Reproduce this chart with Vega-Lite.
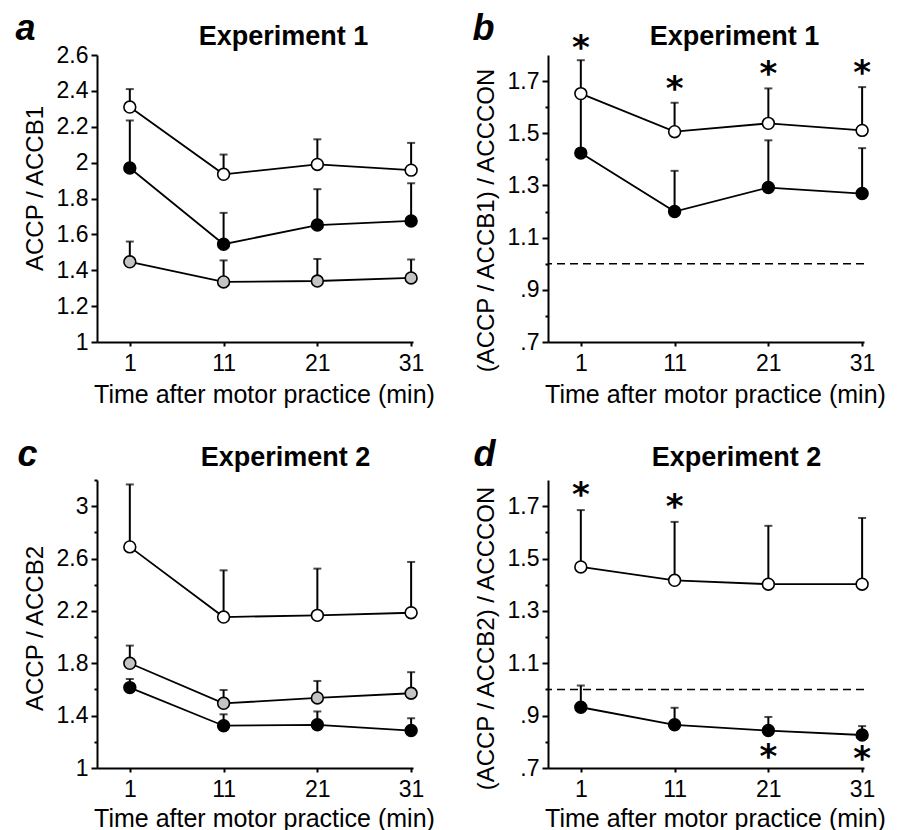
{
  "$schema": "https://vega.github.io/schema/vega-lite/v6.json",
  "background": "white",
  "padding": {"left": 15, "top": 10, "right": 5, "bottom": 5},
  "config": {
    "view": {"stroke": null},
    "font": "Liberation Sans",
    "axis": {
      "grid": false, "domainColor": "black", "domainWidth": 2, "tickColor": "black", "tickWidth": 2,
      "labelColor": "black", "titleColor": "black", "labelFont": "Liberation Sans", "titleFont": "Liberation Sans",
      "labelFontSize": 23, "titleFontSize": 24, "titleFontWeight": "normal", "labelFlush": false, "labelOverlap": false
    }
  },
  "datasets": {
    "pts": [
      {"panel": "a", "series": "open", "time": 1, "mean": 2.31, "upper": 2.41},
      {"panel": "a", "series": "open", "time": 11, "mean": 1.935, "upper": 2.045},
      {"panel": "a", "series": "open", "time": 21, "mean": 1.99, "upper": 2.13},
      {"panel": "a", "series": "open", "time": 31, "mean": 1.958, "upper": 2.11},
      {"panel": "a", "series": "filled", "time": 1, "mean": 1.97, "upper": 2.235},
      {"panel": "a", "series": "filled", "time": 11, "mean": 1.545, "upper": 1.72},
      {"panel": "a", "series": "filled", "time": 21, "mean": 1.652, "upper": 1.852},
      {"panel": "a", "series": "filled", "time": 31, "mean": 1.675, "upper": 1.885},
      {"panel": "a", "series": "gray", "time": 1, "mean": 1.447, "upper": 1.56},
      {"panel": "a", "series": "gray", "time": 11, "mean": 1.335, "upper": 1.455},
      {"panel": "a", "series": "gray", "time": 21, "mean": 1.34, "upper": 1.463},
      {"panel": "a", "series": "gray", "time": 31, "mean": 1.357, "upper": 1.46},
      {"panel": "b", "series": "open", "time": 1, "mean": 1.652, "upper": 1.78},
      {"panel": "b", "series": "open", "time": 11, "mean": 1.506, "upper": 1.617},
      {"panel": "b", "series": "open", "time": 21, "mean": 1.538, "upper": 1.672},
      {"panel": "b", "series": "open", "time": 31, "mean": 1.511, "upper": 1.677},
      {"panel": "b", "series": "filled", "time": 1, "mean": 1.424, "upper": 1.64},
      {"panel": "b", "series": "filled", "time": 11, "mean": 1.2, "upper": 1.356},
      {"panel": "b", "series": "filled", "time": 21, "mean": 1.292, "upper": 1.473},
      {"panel": "b", "series": "filled", "time": 31, "mean": 1.269, "upper": 1.443},
      {"panel": "c", "series": "open", "time": 1, "mean": 2.689, "upper": 3.166},
      {"panel": "c", "series": "open", "time": 11, "mean": 2.153, "upper": 2.51},
      {"panel": "c", "series": "open", "time": 21, "mean": 2.166, "upper": 2.523},
      {"panel": "c", "series": "open", "time": 31, "mean": 2.186, "upper": 2.574},
      {"panel": "c", "series": "gray", "time": 1, "mean": 1.8, "upper": 1.935},
      {"panel": "c", "series": "gray", "time": 11, "mean": 1.494, "upper": 1.596},
      {"panel": "c", "series": "gray", "time": 21, "mean": 1.535, "upper": 1.665},
      {"panel": "c", "series": "gray", "time": 31, "mean": 1.571, "upper": 1.732},
      {"panel": "c", "series": "filled", "time": 1, "mean": 1.614, "upper": 1.68},
      {"panel": "c", "series": "filled", "time": 11, "mean": 1.323, "upper": 1.41},
      {"panel": "c", "series": "filled", "time": 21, "mean": 1.33, "upper": 1.432},
      {"panel": "c", "series": "filled", "time": 31, "mean": 1.286, "upper": 1.38},
      {"panel": "d", "series": "open", "time": 1, "mean": 1.468, "upper": 1.685},
      {"panel": "d", "series": "open", "time": 11, "mean": 1.417, "upper": 1.64},
      {"panel": "d", "series": "open", "time": 21, "mean": 1.402, "upper": 1.625},
      {"panel": "d", "series": "open", "time": 31, "mean": 1.402, "upper": 1.655},
      {"panel": "d", "series": "filled", "time": 1, "mean": 0.932, "upper": 1.015},
      {"panel": "d", "series": "filled", "time": 11, "mean": 0.865, "upper": 0.93},
      {"panel": "d", "series": "filled", "time": 21, "mean": 0.843, "upper": 0.895},
      {"panel": "d", "series": "filled", "time": 31, "mean": 0.826, "upper": 0.86}
    ],
    "stars": [
      {"panel": "b", "time": 1, "y": 1.837, "label": "*"},
      {"panel": "b", "time": 11, "y": 1.68, "label": "*"},
      {"panel": "b", "time": 21, "y": 1.738, "label": "*"},
      {"panel": "b", "time": 31, "y": 1.743, "label": "*"},
      {"panel": "d", "time": 1, "y": 1.755, "label": "*"},
      {"panel": "d", "time": 11, "y": 1.71, "label": "*"},
      {"panel": "d", "time": 21, "y": 0.753, "label": "*"},
      {"panel": "d", "time": 31, "y": 0.747, "label": "*"}
    ],
    "refs": [
      {"panel": "b", "ref": 1},
      {"panel": "d", "ref": 1}
    ]
  },
  "columns": 2,
  "bounds": "flush",
  "spacing": {"row": 138, "column": 135},
  "concat": [
    {
      "width": 316, "height": 287,
      "data": {"name": "pts"},
      "transform": [{"filter": "datum.panel == 'a'"}],
      "resolve": {"axis": {"x": "independent", "y": "independent"}},
      "layer": [
        {"mark": {"type": "rule", "color": "black", "strokeWidth": 2},
         "encoding": {
           "x": {"field": "time", "type": "quantitative", "scale": {"domain": [-2.5, 31.2], "nice": false, "zero": false},
                 "axis": {"orient": "bottom", "values": [1, 11, 21, 31], "title": "Time after motor practice (min)", "titleFontSize": 25, "titleX": 167, "titleY": 60, "titleBaseline": "alphabetic", "tickSize": 4, "labelPadding": 6}},
           "y": {"field": "mean", "type": "quantitative", "scale": {"domain": [1, 2.6], "nice": false, "zero": false},
                 "axis": {"orient": "left", "values": [1, 1.2, 1.4, 1.6, 1.8, 2, 2.2, 2.4, 2.6], "format": "~g", "title": "ACCP / ACCB1", "tickSize": 6, "labelPadding": 3, "titleX": -55, "titleY": 133, "titleBaseline": "alphabetic", "titleAlign": "center", "titleAngle": -90}},
           "y2": {"field": "upper"}
         }},
        {"mark": {"type": "tick", "orient": "horizontal", "color": "black", "size": 8, "thickness": 2},
         "encoding": {
           "x": {"field": "time", "type": "quantitative", "scale": {"domain": [-2.5, 31.2], "nice": false, "zero": false}, "axis": null},
           "y": {"field": "upper", "type": "quantitative", "scale": {"domain": [1, 2.6], "nice": false, "zero": false}, "axis": null}
         }},
        {"mark": {"type": "line", "color": "black", "strokeWidth": 1.8},
         "encoding": {
           "x": {"field": "time", "type": "quantitative", "scale": {"domain": [-2.5, 31.2], "nice": false, "zero": false},
                 "axis": {"orient": "top", "labels": false, "ticks": false, "domain": false, "title": "a", "titleFontSize": 36, "titleFontWeight": "bold", "titleFontStyle": "italic", "titleX": -82, "titleY": -16, "titleAlign": "left", "titleBaseline": "alphabetic"}},
           "y": {"field": "mean", "type": "quantitative", "scale": {"domain": [1, 2.6], "nice": false, "zero": false}, "axis": null},
           "detail": {"field": "series"}
         }},
        {"mark": {"type": "point", "shape": "circle", "filled": true, "size": 140, "stroke": "black", "strokeWidth": 1.6, "opacity": 1},
         "encoding": {
           "x": {"field": "time", "type": "quantitative", "scale": {"domain": [-2.5, 31.2], "nice": false, "zero": false},
                 "axis": {"orient": "top", "labels": false, "ticks": false, "domain": false, "title": "Experiment 1", "titleFontSize": 27, "titleFontWeight": "bold", "titleX": 186, "titleY": -11, "titleAlign": "center", "titleBaseline": "alphabetic"}},
           "y": {"field": "mean", "type": "quantitative", "scale": {"domain": [1, 2.6], "nice": false, "zero": false}, "axis": null},
           "fill": {"field": "series", "type": "nominal", "scale": {"domain": ["open", "filled", "gray"], "range": ["white", "black", "#c4c4c4"]}, "legend": null}
         }}
      ]
    },
    {
      "width": 316, "height": 287,
      "data": {"name": "pts"},
      "transform": [{"filter": "datum.panel == 'b'"}],
      "resolve": {"axis": {"x": "independent", "y": "independent"}},
      "layer": [
        {"data": {"name": "refs"},
         "transform": [{"filter": "datum.panel == 'b'"}],
         "mark": {"type": "rule", "color": "black", "strokeWidth": 1.5, "strokeDash": [8, 5]},
         "encoding": {
           "y": {"field": "ref", "type": "quantitative", "scale": {"domain": [0.7, 1.8], "nice": false, "zero": false}, "axis": null}
         }},
        {"mark": {"type": "rule", "color": "black", "strokeWidth": 2},
         "encoding": {
           "x": {"field": "time", "type": "quantitative", "scale": {"domain": [-2.5, 31.2], "nice": false, "zero": false},
                 "axis": {"orient": "bottom", "values": [1, 11, 21, 31], "title": "Time after motor practice (min)", "titleFontSize": 25, "titleX": 167, "titleY": 60, "titleBaseline": "alphabetic", "tickSize": 4, "labelPadding": 6}},
           "y": {"field": "mean", "type": "quantitative", "scale": {"domain": [0.7, 1.8], "nice": false, "zero": false},
                 "axis": {"orient": "left", "values": [0.7, 0.8, 0.9, 1, 1.1, 1.2, 1.3, 1.4, 1.5, 1.6, 1.7], "labelExpr": "round(datum.value*10)%2==1 ? replace(format(datum.value,'.1f'),'0.','.') : ''", "title": "(ACCP / ACCB1) / ACCCON", "tickSize": {"condition": {"test": "round(datum.value*10)%2==1", "value": 6}, "value": 3}, "labelPadding": 3, "titleX": -55, "titleY": 165, "titleBaseline": "alphabetic", "titleAlign": "center", "titleAngle": -90}},
           "y2": {"field": "upper"}
         }},
        {"mark": {"type": "tick", "orient": "horizontal", "color": "black", "size": 8, "thickness": 2},
         "encoding": {
           "x": {"field": "time", "type": "quantitative", "scale": {"domain": [-2.5, 31.2], "nice": false, "zero": false}, "axis": null},
           "y": {"field": "upper", "type": "quantitative", "scale": {"domain": [0.7, 1.8], "nice": false, "zero": false}, "axis": null}
         }},
        {"mark": {"type": "line", "color": "black", "strokeWidth": 1.8},
         "encoding": {
           "x": {"field": "time", "type": "quantitative", "scale": {"domain": [-2.5, 31.2], "nice": false, "zero": false},
                 "axis": {"orient": "top", "labels": false, "ticks": false, "domain": false, "title": "b", "titleFontSize": 36, "titleFontWeight": "bold", "titleFontStyle": "italic", "titleX": -76, "titleY": -16, "titleAlign": "left", "titleBaseline": "alphabetic"}},
           "y": {"field": "mean", "type": "quantitative", "scale": {"domain": [0.7, 1.8], "nice": false, "zero": false}, "axis": null},
           "detail": {"field": "series"}
         }},
        {"mark": {"type": "point", "shape": "circle", "filled": true, "size": 140, "stroke": "black", "strokeWidth": 1.6, "opacity": 1},
         "encoding": {
           "x": {"field": "time", "type": "quantitative", "scale": {"domain": [-2.5, 31.2], "nice": false, "zero": false},
                 "axis": {"orient": "top", "labels": false, "ticks": false, "domain": false, "title": "Experiment 1", "titleFontSize": 27, "titleFontWeight": "bold", "titleX": 186, "titleY": -11, "titleAlign": "center", "titleBaseline": "alphabetic"}},
           "y": {"field": "mean", "type": "quantitative", "scale": {"domain": [0.7, 1.8], "nice": false, "zero": false}, "axis": null},
           "fill": {"field": "series", "type": "nominal", "scale": {"domain": ["open", "filled", "gray"], "range": ["white", "black", "#c4c4c4"]}, "legend": null}
         }},
        {"data": {"name": "stars"},
         "transform": [{"filter": "datum.panel == 'b'"}],
         "mark": {"type": "text", "font": "DejaVu Sans", "fontSize": 34, "fontWeight": "bold", "baseline": "alphabetic", "dy": 14, "color": "black"},
         "encoding": {
           "x": {"field": "time", "type": "quantitative", "scale": {"domain": [-2.5, 31.2], "nice": false, "zero": false}, "axis": null},
           "y": {"field": "y", "type": "quantitative", "scale": {"domain": [0.7, 1.8], "nice": false, "zero": false}, "axis": null},
           "text": {"field": "label"}
         }}
      ]
    },
    {
      "width": 316, "height": 288,
      "data": {"name": "pts"},
      "transform": [{"filter": "datum.panel == 'c'"}],
      "resolve": {"axis": {"x": "independent", "y": "independent"}},
      "layer": [
        {"mark": {"type": "rule", "color": "black", "strokeWidth": 2},
         "encoding": {
           "x": {"field": "time", "type": "quantitative", "scale": {"domain": [-2.5, 31.2], "nice": false, "zero": false},
                 "axis": {"orient": "bottom", "values": [1, 11, 21, 31], "title": "Time after motor practice (min)", "titleFontSize": 25, "titleX": 167, "titleY": 58, "titleBaseline": "alphabetic", "tickSize": 4, "labelPadding": 6}},
           "y": {"field": "mean", "type": "quantitative", "scale": {"domain": [1, 3.2], "nice": false, "zero": false},
                 "axis": {"orient": "left", "values": [1, 1.2, 1.4, 1.6, 1.8, 2, 2.2, 2.4, 2.6, 2.8, 3, 3.2], "labelExpr": "(round(datum.value*10)-10)%4==0 ? format(datum.value,'~g') : ''", "title": "ACCP / ACCB2", "tickSize": {"condition": {"test": "(round(datum.value*10)-10)%4==0", "value": 6}, "value": 3}, "labelPadding": 3, "titleX": -55, "titleY": 148, "titleBaseline": "alphabetic", "titleAlign": "center", "titleAngle": -90}},
           "y2": {"field": "upper"}
         }},
        {"mark": {"type": "tick", "orient": "horizontal", "color": "black", "size": 8, "thickness": 2},
         "encoding": {
           "x": {"field": "time", "type": "quantitative", "scale": {"domain": [-2.5, 31.2], "nice": false, "zero": false}, "axis": null},
           "y": {"field": "upper", "type": "quantitative", "scale": {"domain": [1, 3.2], "nice": false, "zero": false}, "axis": null}
         }},
        {"mark": {"type": "line", "color": "black", "strokeWidth": 1.8},
         "encoding": {
           "x": {"field": "time", "type": "quantitative", "scale": {"domain": [-2.5, 31.2], "nice": false, "zero": false},
                 "axis": {"orient": "top", "labels": false, "ticks": false, "domain": false, "title": "c", "titleFontSize": 36, "titleFontWeight": "bold", "titleFontStyle": "italic", "titleX": -80, "titleY": -15, "titleAlign": "left", "titleBaseline": "alphabetic"}},
           "y": {"field": "mean", "type": "quantitative", "scale": {"domain": [1, 3.2], "nice": false, "zero": false}, "axis": null},
           "detail": {"field": "series"}
         }},
        {"mark": {"type": "point", "shape": "circle", "filled": true, "size": 140, "stroke": "black", "strokeWidth": 1.6, "opacity": 1},
         "encoding": {
           "x": {"field": "time", "type": "quantitative", "scale": {"domain": [-2.5, 31.2], "nice": false, "zero": false},
                 "axis": {"orient": "top", "labels": false, "ticks": false, "domain": false, "title": "Experiment 2", "titleFontSize": 27, "titleFontWeight": "bold", "titleX": 188, "titleY": -15, "titleAlign": "center", "titleBaseline": "alphabetic"}},
           "y": {"field": "mean", "type": "quantitative", "scale": {"domain": [1, 3.2], "nice": false, "zero": false}, "axis": null},
           "fill": {"field": "series", "type": "nominal", "scale": {"domain": ["open", "filled", "gray"], "range": ["white", "black", "#c4c4c4"]}, "legend": null}
         }}
      ]
    },
    {
      "width": 316, "height": 288,
      "data": {"name": "pts"},
      "transform": [{"filter": "datum.panel == 'd'"}],
      "resolve": {"axis": {"x": "independent", "y": "independent"}},
      "layer": [
        {"data": {"name": "refs"},
         "transform": [{"filter": "datum.panel == 'd'"}],
         "mark": {"type": "rule", "color": "black", "strokeWidth": 1.5, "strokeDash": [8, 5]},
         "encoding": {
           "y": {"field": "ref", "type": "quantitative", "scale": {"domain": [0.7, 1.8], "nice": false, "zero": false}, "axis": null}
         }},
        {"mark": {"type": "rule", "color": "black", "strokeWidth": 2},
         "encoding": {
           "x": {"field": "time", "type": "quantitative", "scale": {"domain": [-2.5, 31.2], "nice": false, "zero": false},
                 "axis": {"orient": "bottom", "values": [1, 11, 21, 31], "title": "Time after motor practice (min)", "titleFontSize": 25, "titleX": 167, "titleY": 58, "titleBaseline": "alphabetic", "tickSize": 4, "labelPadding": 6}},
           "y": {"field": "mean", "type": "quantitative", "scale": {"domain": [0.7, 1.8], "nice": false, "zero": false},
                 "axis": {"orient": "left", "values": [0.7, 0.8, 0.9, 1, 1.1, 1.2, 1.3, 1.4, 1.5, 1.6, 1.7], "labelExpr": "round(datum.value*10)%2==1 ? replace(format(datum.value,'.1f'),'0.','.') : ''", "title": "(ACCP / ACCB2) / ACCCON", "tickSize": {"condition": {"test": "round(datum.value*10)%2==1", "value": 6}, "value": 3}, "labelPadding": 3, "titleX": -55, "titleY": 158, "titleBaseline": "alphabetic", "titleAlign": "center", "titleAngle": -90}},
           "y2": {"field": "upper"}
         }},
        {"mark": {"type": "tick", "orient": "horizontal", "color": "black", "size": 8, "thickness": 2},
         "encoding": {
           "x": {"field": "time", "type": "quantitative", "scale": {"domain": [-2.5, 31.2], "nice": false, "zero": false}, "axis": null},
           "y": {"field": "upper", "type": "quantitative", "scale": {"domain": [0.7, 1.8], "nice": false, "zero": false}, "axis": null}
         }},
        {"mark": {"type": "line", "color": "black", "strokeWidth": 1.8},
         "encoding": {
           "x": {"field": "time", "type": "quantitative", "scale": {"domain": [-2.5, 31.2], "nice": false, "zero": false},
                 "axis": {"orient": "top", "labels": false, "ticks": false, "domain": false, "title": "d", "titleFontSize": 36, "titleFontWeight": "bold", "titleFontStyle": "italic", "titleX": -75, "titleY": -15, "titleAlign": "left", "titleBaseline": "alphabetic"}},
           "y": {"field": "mean", "type": "quantitative", "scale": {"domain": [0.7, 1.8], "nice": false, "zero": false}, "axis": null},
           "detail": {"field": "series"}
         }},
        {"mark": {"type": "point", "shape": "circle", "filled": true, "size": 140, "stroke": "black", "strokeWidth": 1.6, "opacity": 1},
         "encoding": {
           "x": {"field": "time", "type": "quantitative", "scale": {"domain": [-2.5, 31.2], "nice": false, "zero": false},
                 "axis": {"orient": "top", "labels": false, "ticks": false, "domain": false, "title": "Experiment 2", "titleFontSize": 27, "titleFontWeight": "bold", "titleX": 188, "titleY": -15, "titleAlign": "center", "titleBaseline": "alphabetic"}},
           "y": {"field": "mean", "type": "quantitative", "scale": {"domain": [0.7, 1.8], "nice": false, "zero": false}, "axis": null},
           "fill": {"field": "series", "type": "nominal", "scale": {"domain": ["open", "filled", "gray"], "range": ["white", "black", "#c4c4c4"]}, "legend": null}
         }},
        {"data": {"name": "stars"},
         "transform": [{"filter": "datum.panel == 'd'"}],
         "mark": {"type": "text", "font": "DejaVu Sans", "fontSize": 34, "fontWeight": "bold", "baseline": "alphabetic", "dy": 14, "color": "black"},
         "encoding": {
           "x": {"field": "time", "type": "quantitative", "scale": {"domain": [-2.5, 31.2], "nice": false, "zero": false}, "axis": null},
           "y": {"field": "y", "type": "quantitative", "scale": {"domain": [0.7, 1.8], "nice": false, "zero": false}, "axis": null},
           "text": {"field": "label"}
         }}
      ]
    }
  ]
}
